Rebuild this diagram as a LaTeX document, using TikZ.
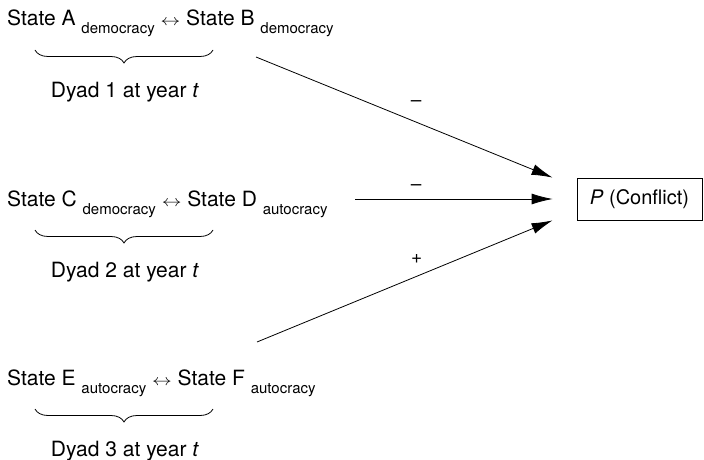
\documentclass[tikz,border=0pt]{standalone}
\usepackage{fontspec}
\setmainfont{TeX Gyre Heros}
\usetikzlibrary{arrows.meta, decorations.pathreplacing}

\newcommand{\regime}[1]{\raisebox{-8pt}{\fontsize{15}{18}\selectfont #1}}
\newcommand{\pairarrow}{\scalebox{0.95}[0.75]{$\leftrightarrow$}}

\tikzset{
	dyad/.style = {anchor = base west, inner sep = 0pt, font = \fontsize{21}{25}\selectfont},
	period/.style = {anchor = base, inner sep = 0pt, font = \fontsize{21}{25}\selectfont},
	outcome/.style = {draw, line width = 0.8pt, minimum width = 125pt, minimum height = 42pt, inner sep = 0pt, font = \fontsize{20}{24}\selectfont},
	sign/.style = {font = \fontsize{19}{22}\selectfont},
	pairbrace/.style = {decorate, decoration = {brace, mirror, amplitude = 13pt}, line width = 0.8pt}
}

\begin{document}
\begin{tikzpicture}[> = {Latex[length = 21pt, width = 11pt]}, x = 1pt, y = -1pt]

	\useasboundingbox (0, 0) rectangle (704, 460);

	% Dyads
	
	\foreach \num/\y/\first/\firstreg/\second/\secondreg in {1/26/A/democracy/B/democracy, 2/206/C/democracy/D/autocracy, 3/385/E/autocracy/F/autocracy} {
		\node [dyad] (pair\num) at (7, \y) {State \first{} \regime{\firstreg} \pairarrow{} State \second{} \regime{\secondreg}};
		\draw [pairbrace] (35, \y + 24) -- (213, \y + 24);
		\node [period] (year\num) at (125, \y + 71) {Dyad \num{} at year \textit{t}};
	}
	
	% Outcome
	
	\node [outcome] (P) at (639.5, 199) {\textit{P} (Conflict)};
	
	% Arrows
	
	\coordinate (from1) at (256, 57);
	\coordinate (from2) at (355, 199);
	\coordinate (from3) at (257, 342);
	
	\draw [->, line width = 0.8pt] (from1) -- ([xshift = -24pt] P.north west) node [sign, pos = 0.54, above = 12pt] {–};
	\draw [->, line width = 0.8pt] (from2) -- ([xshift = -24pt] P.west) node [sign, pos = 0.31, above = 5pt] {–};
	\draw [->, line width = 0.8pt] (from3) -- ([xshift = -24pt] P.south west) node [sign, pos = 0.54, above = 9pt] {+};

\end{tikzpicture}
\end{document}
